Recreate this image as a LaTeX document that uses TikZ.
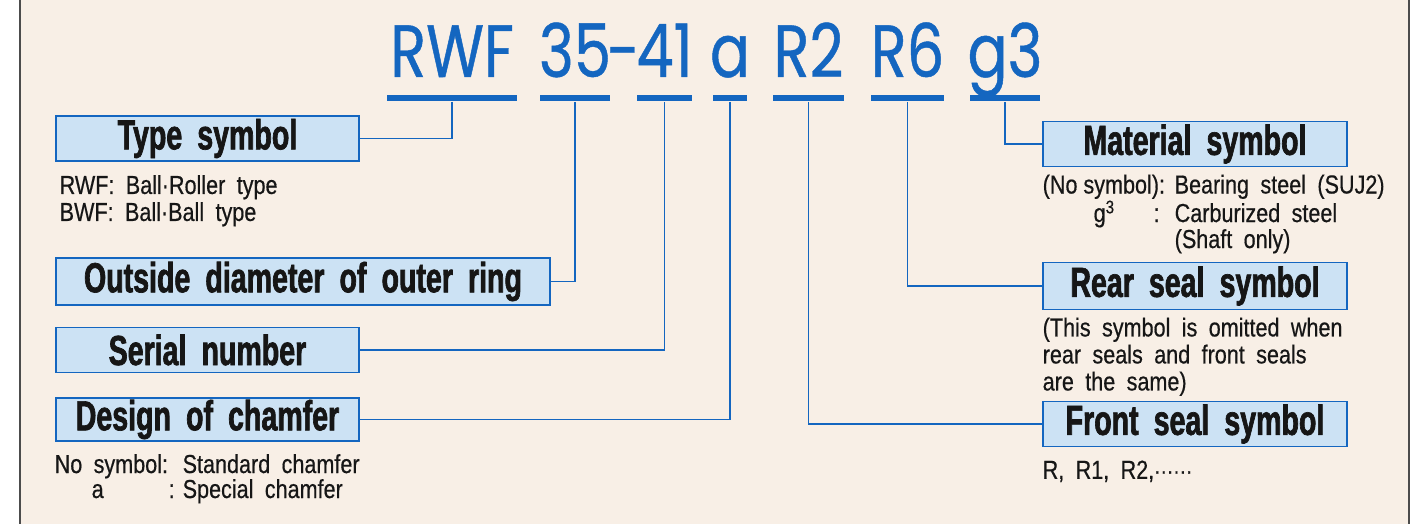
\documentclass[tikz,border=0pt]{standalone}
\usepackage{fontspec}
\usepackage{tikz}
\usetikzlibrary{positioning}
\setmainfont{Liberation Sans}
\newfontfamily\codefont[FakeStretch=0.8,FakeBold=0.6]{Poppins}
\newfontfamily\titlefont[FakeStretch=0.68,FakeBold=1.6,WordSpace=1.9]{Liberation Sans Bold}
\newfontfamily\descfont[FakeStretch=0.83,FakeBold=0.5,WordSpace=1.9]{Liberation Sans}
\definecolor{codeblue}{RGB}{20,102,192}
\definecolor{boxfill}{RGB}{204,226,244}
\definecolor{paper}{RGB}{248,239,230}
\definecolor{ink}{RGB}{22,22,22}

\begin{document}
\begin{tikzpicture}[x=0.5pt,y=-0.5pt,
    code/.style={font=\codefont\fontsize{37}{37}\selectfont, text=codeblue, anchor=base, inner sep=0},
    bar/.style={fill=codeblue, minimum height=3pt, inner sep=0},
    labelbox/.style={draw=codeblue, line width=0.7pt, fill=boxfill, minimum height=22.5pt,
      inner sep=0, text=ink, font=\titlefont\fontsize{21}{21}\selectfont},
    desc/.style={font=\descfont\fontsize{13}{13.5}\selectfont, text=ink, inner sep=0, align=left},
    link/.style={draw=codeblue, line width=0.75pt}]
    \useasboundingbox (0,0) rectangle (1428,524);
    % Paper and frame
    \fill[white] (0,0) rectangle (1428,524);
    \fill[paper] (20,0) rectangle (1409,524);
    \draw[black!70, line width=0.8pt] (20,0) -- (20,524);
    \draw[black!70, line width=0.8pt] (1409,0) -- (1409,524);
    % Code
    \node[code] (tRWF) at (452,77) {RWF};
    \node[code] (t35) at (575,77) {35};
    \node[code] (tdash) at (623.5,77) {-};
    \node[code] (t41) at (664.5,77) {41};
    \node[code] (ta) at (730,77) {a};
    \node[code] (tR2) at (808.5,77) {R2};
    \node[code] (tR6) at (907.5,77) {R6};
    \node[code] (tg3) at (1005,77) {g3};
    % Underlines
    \node[bar, minimum width=65pt] (bRWF) at (452,98.5) {};
    \node[bar, minimum width=35pt] (b35) at (575,98.5) {};
    \node[bar, minimum width=27.5pt] (b41) at (664.5,98.5) {};
    \node[bar, minimum width=17pt] (ba) at (730,98.5) {};
    \node[bar, minimum width=35.5pt] (bR2) at (808.5,98.5) {};
    \node[bar, minimum width=36.5pt] (bR6) at (907.5,98.5) {};
    \node[bar, minimum width=35pt] (bg3) at (1005,98.5) {};
    % Label boxes, left
    \node[labelbox, minimum width=151.5pt] (type) at (207.5,138.5) {Type symbol};
    \node[labelbox, minimum width=247pt, minimum height=23.5pt] (outdia) at (303,281.5) {Outside diameter of outer ring};
    \node[labelbox, minimum width=151.5pt] (serial) at (207.5,350) {Serial number};
    \node[labelbox, minimum width=151.5pt, minimum height=21.5pt] (chamfer) at (207.5,419.5) {Design of chamfer};
    % Label boxes, right
    \node[labelbox, minimum width=152pt] (material) at (1195,144) {Material symbol};
    \node[labelbox, minimum width=152pt, minimum height=23.5pt] (rear) at (1195,286) {Rear seal symbol};
    \node[labelbox, minimum width=152pt] (front) at (1195,424) {Front seal symbol};
    % Notes
    \node[desc, below right=6.5pt and 2pt of type.south west] (typeinfo)
      {RWF: Ball·Roller type\\BWF: Ball·Ball type};
    \node[desc, below right=6pt and -0.5pt of chamfer.south west] (chamferinfo)
      {\begin{tabular}{@{}p{64pt}@{}l@{}}
        No symbol: & Standard chamfer\\[-1pt]
        \hspace{18.5pt}a & \llap{:\hspace{4pt}}Special chamfer
      \end{tabular}};
    \node[desc, below right=3.5pt and 0pt of material.south west] (materialinfo)
      {\begin{tabular}{@{}p{66pt}@{}l@{}}
        (No\hspace{3pt}symbol): & Bearing steel (SUJ2)\\[-0.5pt]
        \hspace{25.5pt}g\textsuperscript{3} & \llap{:\hspace{7.5pt}}Carburized steel\\[-0.5pt]
        & (Shaft only)
      \end{tabular}};
    \node[desc, below right=3.5pt and 0pt of rear.south west] (rearinfo)
      {(This symbol is omitted when\\rear seals and front seals\\are the same)};
    \node[desc, below right=6.5pt and 0pt of front.south west] (frontinfo)
      {R, R1, R2,{\fontsize{11.5}{11.5}\selectfont ······}};
    % Leaders
    \draw[link] (bRWF.south) |- (type.east);
    \draw[link] (b35.south) |- (outdia.east);
    \draw[link] (b41.south) |- (serial.east);
    \draw[link] (ba.south) |- (chamfer.east);
    \draw[link] (bR2.south) |- (front.west);
    \draw[link] (bR6.south) |- (rear.west);
    \draw[link] (bg3.south) |- (material.west);
\end{tikzpicture}
\end{document}
